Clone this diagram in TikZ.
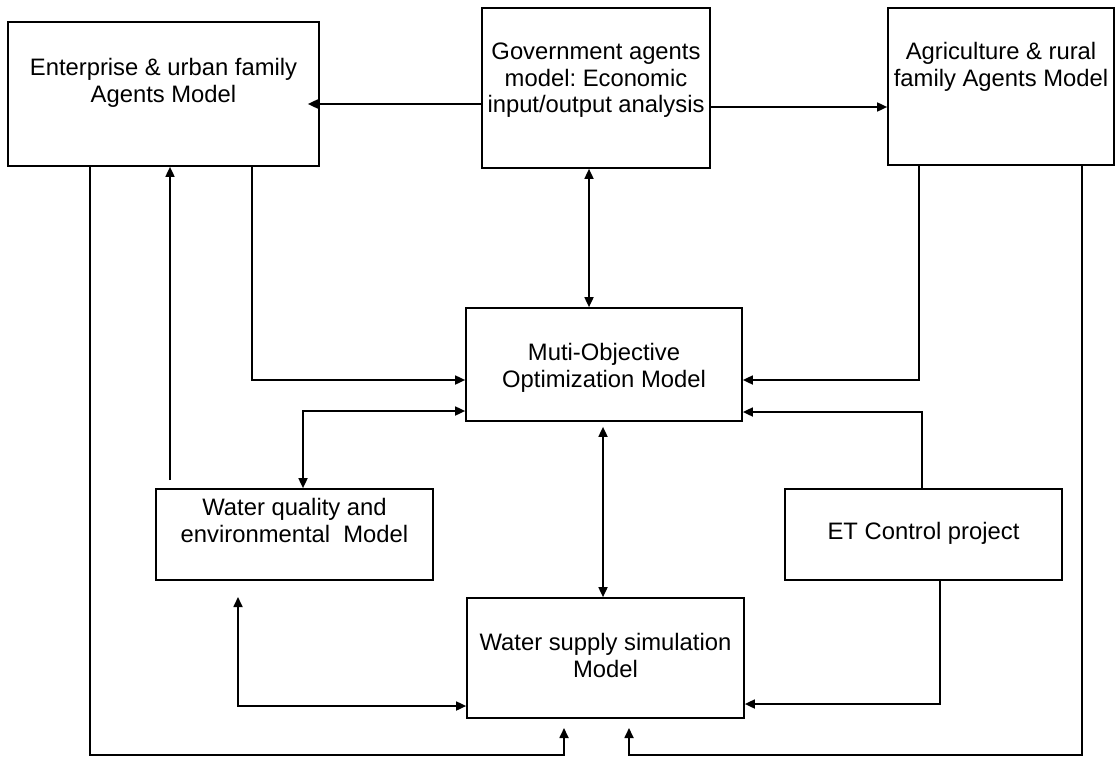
\documentclass[tikz,border=0pt]{standalone}
\usepackage{fontspec}
\setmainfont{Liberation Sans}
\usetikzlibrary{arrows.meta,calc}
\frenchspacing
\begin{document}
\begin{tikzpicture}[x=1pt,y=-1pt,
  box/.style={draw, line width=1.7pt, inner sep=0pt},
  txt/.style={align=center, inner sep=0pt, anchor=north, font=\fontsize{23.8pt}{26.5pt}\selectfont},
  conn/.style={line width=1.7pt},
  tip/.style={-{Triangle[length=10pt,width=9pt]}},
  dtip/.style={{Triangle[length=10pt,width=9pt]}-{Triangle[length=10pt,width=9pt]}}]
\useasboundingbox (0,0) rectangle (1115,757);

% boxes
\node[box, minimum width=311pt, minimum height=144pt] (ent) at (163.5,94) {};
\node[box, minimum width=228pt, minimum height=160pt] (gov) at (596,88) {};
\node[box, minimum width=226pt, minimum height=157pt] (agri) at (1001,86.5) {};
\node[box, minimum width=276pt, minimum height=113pt] (multi) at (604,364.5) {};
\node[box, minimum width=277pt, minimum height=91pt] (wq) at (294.5,534.5) {};
\node[box, minimum width=277pt, minimum height=91pt] (et) at (923.5,534.5) {};
\node[box, minimum width=277pt, minimum height=120pt] (ws) at (605.5,658) {};

% texts
\node[txt] (entT) at ($(ent.north)+(0,37)$) {Enterprise \& urban family\\Agents Model};
\node[txt] (govT) at ($(gov.north)+(0,36)$) {Government agents\\model: Economic\\input/output analysis};
\node[txt] (agriT) at ($(agri.north)+(0,35)$) {Agriculture \& rural\\family Agents Model};
\node[txt] (multiT) at ($(multi.north)+(0,36)$) {Muti-Objective\\Optimization Model};
\node[txt] (wqT) at ($(wq.north)+(0,10)$) {Water quality and\\environmental~ Model};
\node[txt] (etT) at ($(et.north)+(0,34)$) {ET Control project};
\node[txt] (wsT) at ($(ws.north)+(0,36)$) {Water supply simulation\\Model};

% helper coordinates
\coordinate (wqa) at (170,480);
\coordinate (wqb) at (238,597);
\coordinate (b1) at (564,728);
\coordinate (b2) at (629,728);

% connectors
\draw[conn,tip,shorten >=-12pt] (gov.west |- 0,104) -- (ent.east |- 0,104);
\draw[conn,tip] (gov.east |- 0,107) -- (agri.west |- 0,107);
\draw[conn,dtip] (gov.south -| 589,0) -- (multi.north -| 589,0);
\draw[conn,tip] (ent.south -| 252,0) |- (multi.west |- 0,380);
\draw[conn,tip] (agri.south -| 919,0) |- (multi.east |- 0,380);
\draw[conn,dtip] (multi.west |- 0,411) -| (wq.north -| 303,0);
\draw[conn,tip] (wqa) -- (ent.south -| wqa);
\draw[conn,tip] (et.north -| 922,0) |- (multi.east |- 0,412);
\draw[conn,dtip,shorten <=5pt] (multi.south -| 603,0) -- (ws.north -| 603,0);
\draw[conn,dtip] (ws.west |- 0,706) -| (wqb);
\draw[conn,tip] (et.south -| 940,0) |- (ws.east |- 0,704);
\draw[conn,tip] (ent.south -| 90,0) |- (b1 |- 0,755) -- (b1);
\draw[conn,tip] (agri.south -| 1082,0) |- (b2 |- 0,755) -- (b2);
\end{tikzpicture}
\end{document}
